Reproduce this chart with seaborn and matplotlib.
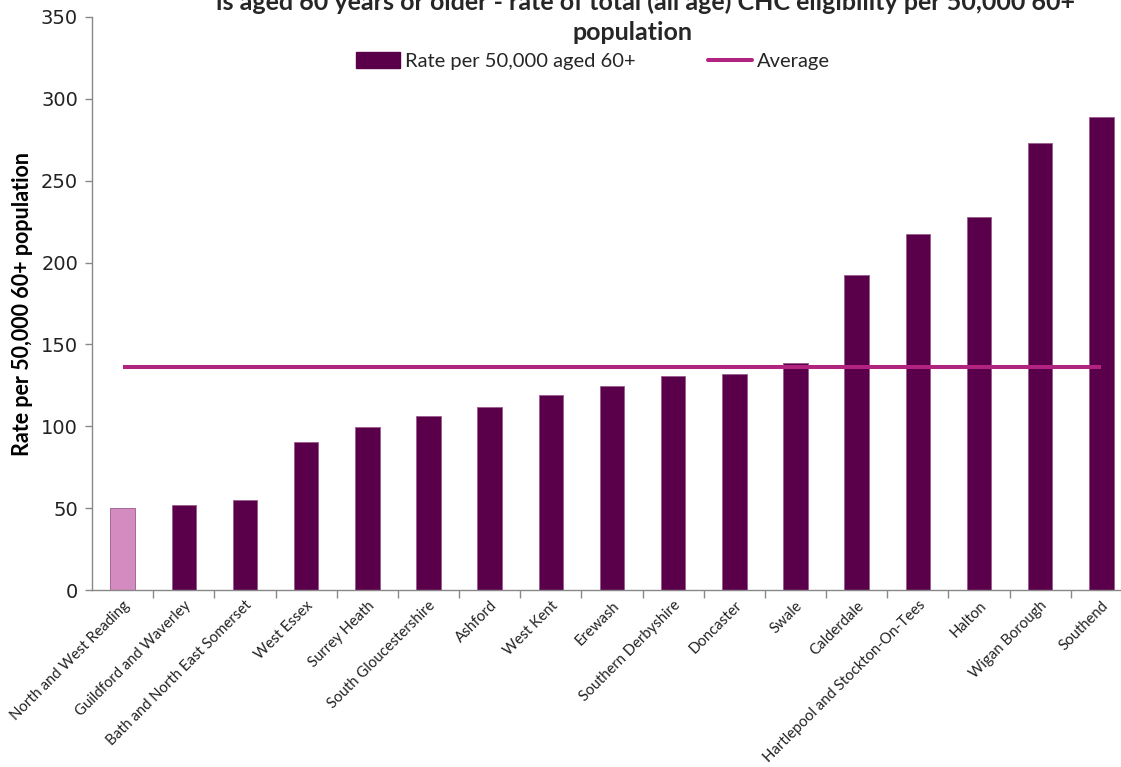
import matplotlib
matplotlib.use("Agg")
import matplotlib.pyplot as plt
import seaborn as sns
import pandas as pd
from matplotlib.patches import Patch
from matplotlib.lines import Line2D

categories = [
    "North and West Reading", "Guildford and Waverley", "Bath and North East Somerset",
    "West Essex", "Surrey Heath", "South Gloucestershire", "Ashford", "West Kent",
    "Erewash", "Southern Derbyshire", "Doncaster", "Swale", "Calderdale",
    "Hartlepool and Stockton-On-Tees", "Halton", "Wigan Borough", "Southend",
]
rates = [50.1, 51.7, 54.8, 90.4, 99.6, 106.3, 111.8, 119.1, 124.6, 130.7,
         132.0, 138.7, 192.4, 217.5, 228.0, 272.8, 288.7]
average = 136.1
yticks = [0, 50, 100, 150, 200, 250, 300, 350]

title_line1 = "is aged 60 years or older - rate of total (all age) CHC eligibility per 50,000 60+"
title_line2 = "population"
ylabel = "Rate per 50,000 60+ population"
legend_bar = "Rate per 50,000 aged 60+"
legend_line = "Average"

dark = "#5A004A"
pink = "#D48BBF"
line_col = "#B0237F"

sns.set_theme(style="white")
plt.rcParams["font.family"] = ["Lato", "DejaVu Sans"]

fig = plt.figure(figsize=(11.21, 7.67), dpi=100)
ax = fig.add_axes([92 / 1121, 1 - 590 / 767, (1132 - 92) / 1121, (590 - 17) / 767])

df = pd.DataFrame({"cat": categories, "rate": rates})
palette = {c: (pink if i == 0 else dark) for i, c in enumerate(categories)}
sns.barplot(data=df, x="cat", y="rate", hue="cat", palette=palette, legend=False,
            width=0.40, ax=ax, edgecolor="#9a5a8e", linewidth=0.6, saturation=1)

xs = list(range(len(categories)))
ax.plot(xs, [average] * len(categories), color=line_col, lw=2.9, solid_capstyle="butt", zorder=5)

ax.set_ylim(0, 350)
ax.set_xlim(-0.5, len(categories) - 0.5)
ax.set_yticks(yticks)
ax.set_yticklabels([str(v) for v in yticks], fontsize=14, family="DejaVu Sans", color="#222222")
ax.set_xticks(xs)
ax.set_xticklabels(categories, rotation=45, ha="right", rotation_mode="anchor",
                   fontsize=10.7, color="#222222")
ax.set_xlabel("")
ax.set_ylabel(ylabel, fontsize=15.5, fontweight="bold", color="black", labelpad=6)

# category boundary ticks on the x axis
ax.set_xticks([x + 0.5 for x in xs], minor=True)
ax.tick_params(axis="x", which="major", length=0, pad=6)
ax.tick_params(axis="x", which="minor", length=6, width=1, color="#888888", direction="out", bottom=True)
ax.tick_params(axis="y", length=5, width=1, color="#888888", direction="out", left=True, pad=5)

for s in ["top", "right"]:
    ax.spines[s].set_visible(False)
for s in ["left", "bottom"]:
    ax.spines[s].set_color("#888888")
    ax.spines[s].set_linewidth(1)
ax.grid(False)

handles = [Patch(facecolor=dark, edgecolor=dark), Line2D([0], [0], color=line_col, lw=2.9)]
fig.legend(handles, [legend_bar, legend_line], loc="center", bbox_to_anchor=(593 / 1121, 1 - 61 / 767),
           ncol=2, frameon=False, fontsize=14.5, handlelength=2.2, handletextpad=0.25,
           columnspacing=3.6, handleheight=0.8)

fig.text(645 / 1121, 1 - 2 / 767, title_line1, ha="center", va="center", fontsize=18, fontweight="bold")
fig.text(632 / 1121, 1 - 33 / 767, title_line2, ha="center", va="center", fontsize=18, fontweight="bold")

fig.savefig("out.png", dpi=100)
